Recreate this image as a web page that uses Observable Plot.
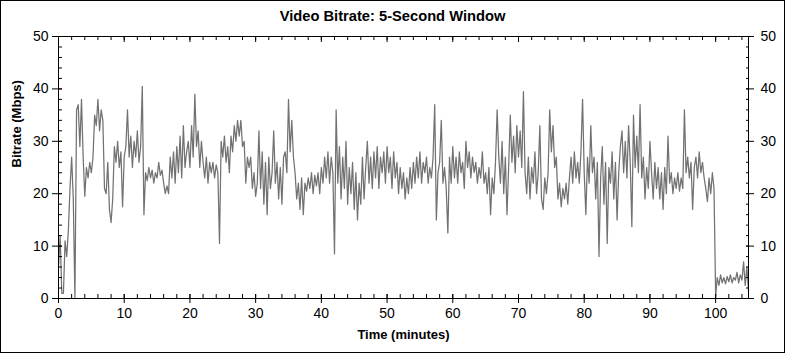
<!DOCTYPE html>
<html>
<head>
<meta charset="utf-8">
<script src="https://cdn.jsdelivr.net/npm/d3@7"></script>
<script src="https://cdn.jsdelivr.net/npm/@observablehq/plot@0.6"></script>
<style>
html,body{margin:0;padding:0;background:#fff;}
#wrap{position:relative;width:785px;height:353px;overflow:hidden;font-family:"Liberation Sans",Arial,sans-serif;}
#wrap svg{position:absolute;left:0;top:0;}
#title{position:absolute;left:0;width:785px;top:8px;text-align:center;font-weight:bold;font-size:14.7px;color:#000;z-index:2;}
#border{position:absolute;left:0;top:0;width:785px;height:353px;box-sizing:border-box;border:1px solid #000;pointer-events:none;z-index:3;}
</style>
</head>
<body>
<div id="wrap"><div id="title">Video Bitrate: 5-Second Window</div><div id="border"></div></div>
<script>
// time step between samples (minutes)
const step = 0.25;
// bitrate (Mbps), one sample every 0.25 min from 0 to 105
const bitrate = [
  6,12,1,1, 11,8,13,21, 27,19,0,36, 37,29,38,27, 19.5,25,23,26,
  24,27,35,33, 38,32,36,34, 21,20,26,17, 14.5,19,29,26, 30,25,28,17.5,
  27,29,36,27, 31,25,30,27, 32,26,29,40.5, 16,24,22.5,25, 23,24.5,22,24,
  23,26,23.5,24.5, 22,20,21.5,20, 27,23,28,22, 29,24,31,23, 33,25,28,30,
  25,33,27,39, 29,32,25,30, 26,23,27,22, 26,24,26,23, 25.5,24,10.5,30,
  27,31,26,29, 24,31,28,33, 30,34,31,34, 29,30,22,27, 25,27,21,24,
  19.5,22,32,21, 28,18,26,16, 27,21,24,32, 22,26,19,25, 18,27,28,24,
  38,28,34,27, 24,19,22,17, 23,16,22,20.5, 23,21,24,20, 23.5,21.5,24,20,
  25,22,27,23, 28,22,27,24, 8.5,36,22,29, 19,27,21,30, 18,25,20,26,
  17,24,15,22, 18,27,19,25, 30,22,27,21, 28,23,29,21, 27,24,28,22,
  29,24,27,21, 28,23,26,20, 25,21,24,19, 23,20,25,21, 26,22,27,23,
  28,22,26,24, 27,22,25,23, 27,37,15,24, 26,34,22,25, 21,12.5,27,22,
  29,23,27,22, 28,24,26,21, 30,25,28,23, 27,24,26,22, 25,23,28,22,
  24,20,25,16, 23,20,26,36, 27,22,30,20, 27,16,25,35, 26,31,24,33,
  27,32,25,39.5, 24,20,27,19, 25,22,28,20, 24,33,19,17, 23,20,24,36,
  28,33,25,27, 19,22,17.5,21, 19,22,18,23, 27,22,28,23, 26,22,28,38,
  24,16,27,22, 33,24,27,19, 26,8,23,29, 18,26,10.5,25, 22,28,19,26,
  15,24,29,32, 24,30,23,33, 26,13.7,35,25, 31,24,37,23, 27,19,25,21,
  30,24,19,26, 21,25,19,24, 17,25,20,31, 22,24,20,23, 21,24,20.5,23,
  21,36,24,27, 23,26,17,25, 27,23,28,24, 26,23,21,18.5, 23,20,24,21,
  0.5,4,2.5,4.5, 3,4,2.8,4.2, 3.2,4.5,3,4, 3.5,5,3,4.5, 3.5,7,2.5,6,
  1.5
];
const xMajor = [0,10,20,30,40,50,60,70,80,90,100];
const xMinor = [0,2,4,6,8,10,12,14,16,18,20,22,24,26,28,30,32,34,36,38,40,42,44,46,48,50,52,54,56,58,60,62,64,66,68,70,72,74,76,78,80,82,84,86,88,90,92,94,96,98,100,102,104];
const yMajor = [0,10,20,30,40,50];
const yMinor = [0,2,4,6,8,10,12,14,16,18,20,22,24,26,28,30,32,34,36,38,40,42,44,46,48,50];
const xLabel = "Time (minutes)";
const yLabel = "Bitrate (Mbps)";

const rows = bitrate.map((v, i) => ({t: i * step, v}));
const none = () => "";

const chart = Plot.plot({
  width: 785,
  height: 353,
  marginLeft: 58,
  marginRight: 37,
  marginTop: 36,
  marginBottom: 55,
  x: {domain: [0, 105], label: null},
  y: {domain: [0, 50], label: null},
  style: {fontFamily: "'Liberation Sans', Arial, sans-serif", fontSize: "14px", color: "#000", background: "transparent", overflow: "visible"},
  marks: [
    Plot.line(rows, {x: "t", y: "v", stroke: "#727272", strokeWidth: 1.25}),
    Plot.frame({stroke: "#000"}),
    // left axis
    Plot.axisY({ticks: yMajor, anchor: "left", tickSize: 10, dx: 4, tickFormat: none, label: null}),
    Plot.axisY({ticks: yMinor, anchor: "left", tickSize: 4, dx: 4, tickFormat: none, label: null}),
    Plot.axisY({ticks: yMajor, anchor: "left", tickSize: 0, tickPadding: 10, label: null, fontSize: 14}),
    // right axis
    Plot.axisY({ticks: yMajor, anchor: "right", tickSize: 8, dx: -3, tickFormat: none, label: null}),
    Plot.axisY({ticks: yMinor, anchor: "right", tickSize: 3, dx: -3, tickFormat: none, label: null}),
    Plot.axisY({ticks: yMajor, anchor: "right", tickSize: 0, tickPadding: 12, label: null, fontSize: 14}),
    // bottom axis
    Plot.axisX({ticks: xMajor, anchor: "bottom", tickSize: 9, dy: -4, tickFormat: none, label: null}),
    Plot.axisX({ticks: xMinor, anchor: "bottom", tickSize: 4, dy: -4, tickFormat: none, label: null}),
    Plot.axisX({ticks: xMajor, anchor: "bottom", tickSize: 0, tickPadding: 10, label: null, fontSize: 14}),
    // top axis
    Plot.axisX({ticks: xMajor, anchor: "top", tickSize: 5, dy: 5, tickFormat: none, label: null}),
    Plot.axisX({ticks: xMinor, anchor: "top", tickSize: 3, dy: 3, tickFormat: none, label: null}),
    // axis titles
    Plot.text([yLabel], {frameAnchor: "left", dx: -42, rotate: -90, fontWeight: "bold", fontSize: 13, text: d => d}),
    Plot.text([xLabel], {frameAnchor: "bottom", dy: 40, fontWeight: "bold", fontSize: 13, text: d => d})
  ]
});
document.getElementById("wrap").appendChild(chart);
</script>
</body>
</html>
